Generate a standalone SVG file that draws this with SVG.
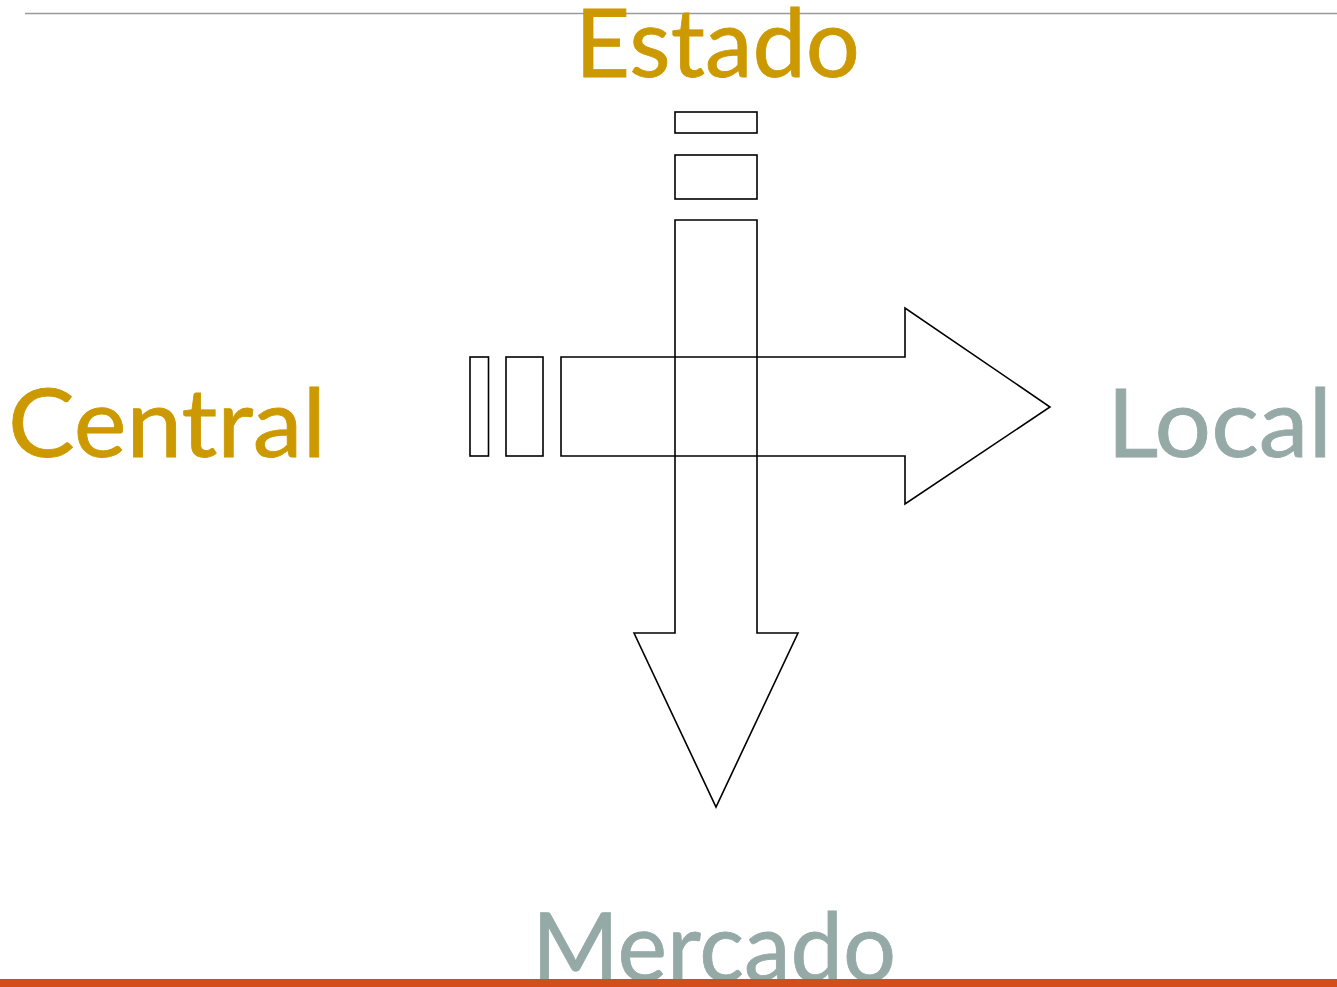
<svg xmlns="http://www.w3.org/2000/svg" width="1337" height="987" viewBox="0 0 1337 987">
<style>
.shape{fill:none;stroke:#000;stroke-width:1.6;stroke-linejoin:miter}
.lbl{font-family:Lato,"Open Sans","Noto Sans",sans-serif;font-size:95px;stroke-width:0.8}
.gold{fill:#CC9900;stroke:#CC9900}
.gray{fill:#95A9A6;stroke:#95A9A6}
</style>
<rect width="1337" height="987" fill="#fff"/>
<line x1="25" y1="13.5" x2="1337" y2="13.5" stroke="#9a9a9a" stroke-width="1.5"/>
<g id="estado"><text class="lbl gold" x="575" y="77" textLength="285" lengthAdjust="spacingAndGlyphs">Estado</text></g>
<g id="central"><text class="lbl gold" x="8" y="457" textLength="318" lengthAdjust="spacingAndGlyphs">Central</text></g>
<g id="local"><text class="lbl gray" x="1107" y="457" textLength="225" lengthAdjust="spacingAndGlyphs">Local</text></g>
<g id="mercado"><text class="lbl gray" x="532" y="981" textLength="364" lengthAdjust="spacingAndGlyphs">Mercado</text></g>
<g id="connectors">
<g id="arrow-horizontal">
<rect class="shape" x="470" y="357" width="18.5" height="99"/>
<rect class="shape" x="506" y="357" width="37" height="99"/>
<path class="shape" d="M561,357 H905 V308 L1050,407 L905,504 V456 H561 Z"/>
</g>
<g id="arrow-vertical">
<rect class="shape" x="675" y="112" width="82" height="21"/>
<rect class="shape" x="675" y="155" width="82" height="44"/>
<path class="shape" d="M675,220 H757 V633 H798 L716,807 L634,633 H675 Z"/>
</g>
</g>
<rect x="0" y="979" width="1337" height="8" fill="#D24E1A"/>
</svg>
